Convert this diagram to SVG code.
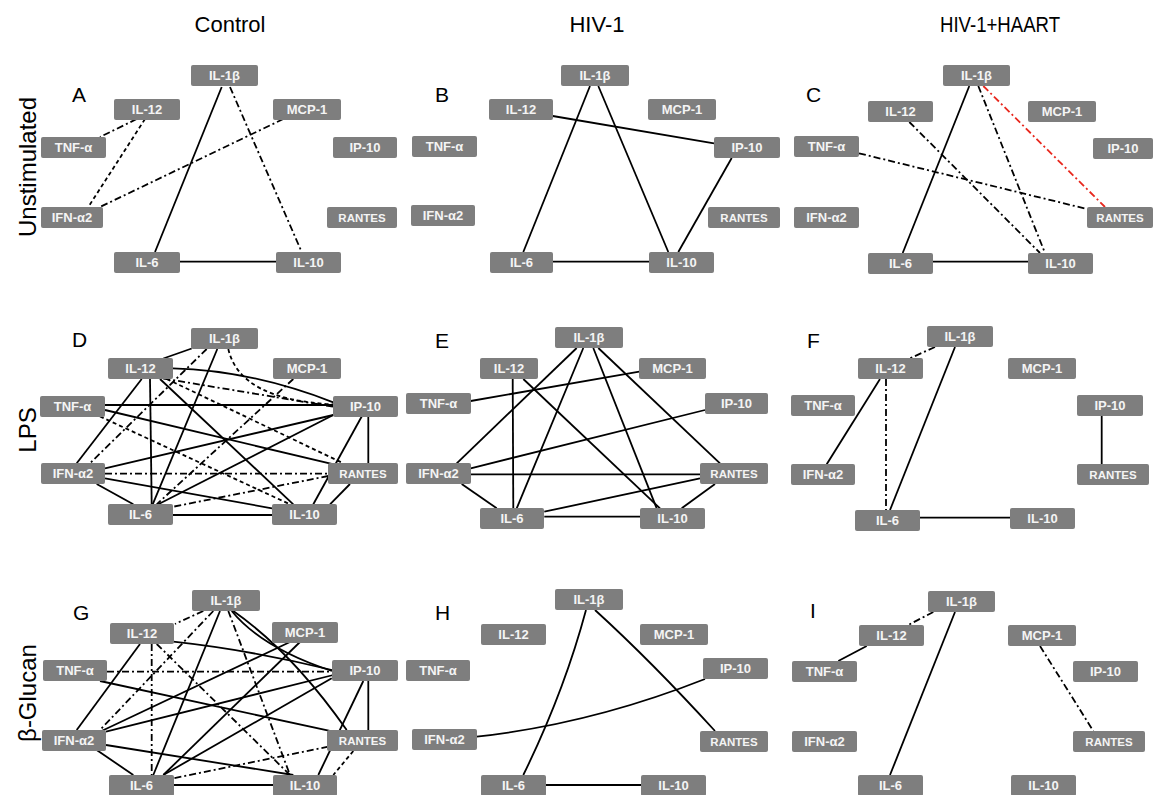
<svg xmlns="http://www.w3.org/2000/svg" width="1153" height="795" viewBox="0 0 1153 795">
<style>
.bg{fill:#fff}
.n rect{fill:#7e7e7e;rx:2px;ry:2px}
.n text{font-family:"Liberation Sans",Arial,sans-serif;font-weight:bold;font-size:13px;fill:#f4f4f4;text-anchor:middle}
.n text.rt{font-size:11.5px}
.e line,.e path{stroke:#000;stroke-width:1.8;fill:none}
.e .d{stroke-dasharray:4 3}
.e .dd{stroke-dasharray:7 3 2 3}
.e .r{stroke:#e8281e}
.hd{font-family:"Liberation Sans",Arial,sans-serif;font-size:22px;fill:#000;text-anchor:middle}
.rl{font-family:"Liberation Sans",Arial,sans-serif;font-size:24px;fill:#000;text-anchor:middle}
.pl{font-family:"Liberation Sans",Arial,sans-serif;font-size:21px;fill:#000}
</style>
<rect class="bg" x="0" y="0" width="1153" height="795"/>
<g id="headers">
<text class="hd" x="230" y="32">Control</text>
<text class="hd" x="597" y="32">HIV-1</text>
<text class="hd" x="1000" y="32" textLength="120" lengthAdjust="spacingAndGlyphs">HIV-1+HAART</text>
<text class="rl" transform="translate(36,167) rotate(-90)">Unstimulated</text>
<text class="rl" transform="translate(36,430) rotate(-90)">LPS</text>
<text class="rl" transform="translate(36,693) rotate(-90)">β-Glucan</text>
<text class="pl" x="72" y="102">A</text>
<text class="pl" x="435" y="102">B</text>
<text class="pl" x="806" y="102">C</text>
<text class="pl" x="72" y="347">D</text>
<text class="pl" x="435" y="348">E</text>
<text class="pl" x="807" y="348">F</text>
<text class="pl" x="73" y="620">G</text>
<text class="pl" x="435" y="620">H</text>
<text class="pl" x="810" y="618">I</text>
</g>
<g id="connectors" class="e">
<!-- A -->
<line x1="221.7" y1="87" x2="155" y2="252"/>
<line class="dd" x1="230" y1="87" x2="301.7" y2="252"/>
<line class="dd" x1="136.7" y1="119" x2="100" y2="137"/>
<line class="d" x1="145" y1="119" x2="88.3" y2="207"/>
<line class="dd" x1="283.3" y1="119" x2="100" y2="207"/>
<line x1="180" y1="261.7" x2="276" y2="261.7"/>
<!-- B -->
<line x1="590" y1="86" x2="523.3" y2="252"/>
<line x1="598.3" y1="86" x2="668.3" y2="252"/>
<line x1="552.7" y1="116" x2="714" y2="143.3"/>
<line x1="731.7" y1="158" x2="678.3" y2="252"/>
<line x1="553" y1="261.7" x2="649" y2="261.7"/>
<!-- C -->
<line x1="969.3" y1="86" x2="902.7" y2="253"/>
<line class="dd" x1="978.3" y1="86" x2="1045" y2="253"/>
<line class="dd r" x1="983.3" y1="86" x2="1105" y2="207"/>
<line class="dd" x1="909.3" y1="122" x2="1040" y2="253"/>
<line class="dd" x1="859" y1="153.3" x2="1087" y2="209"/>
<line x1="933" y1="261.7" x2="1028" y2="261.7"/>
<!-- D -->
<line x1="191.7" y1="348.5" x2="163.3" y2="358.5"/>
<line class="dd" x1="206.7" y1="349" x2="90" y2="463.3"/>
<line x1="217.3" y1="349" x2="152.7" y2="504.3"/>
<path class="d" d="M228.3,349 Q240,400 333,404.3"/>
<path d="M172.7,368.3 Q250,370 333.3,402.3"/>
<line class="dd" x1="163.3" y1="378.5" x2="333" y2="406.7"/>
<line class="d" x1="166.7" y1="379" x2="343.3" y2="463.3"/>
<line x1="160" y1="379" x2="293.3" y2="504.3"/>
<line x1="150" y1="379" x2="151.7" y2="504.3"/>
<line x1="141.7" y1="379" x2="76.7" y2="463.3"/>
<line x1="105" y1="405" x2="333" y2="405"/>
<line x1="105" y1="410" x2="343.3" y2="466.7"/>
<line class="d" x1="100" y1="416.5" x2="290" y2="504.3"/>
<line class="dd" x1="293.3" y1="379" x2="156.7" y2="504.3"/>
<line x1="105" y1="468.3" x2="333.3" y2="415"/>
<line class="dd" x1="105" y1="473.7" x2="328.3" y2="473.7"/>
<line x1="105" y1="478.3" x2="272" y2="508.3"/>
<line x1="96.7" y1="484" x2="133.3" y2="504.3"/>
<line x1="368.3" y1="416.5" x2="368.3" y2="463.3"/>
<line x1="361.7" y1="416.5" x2="313.3" y2="504.3"/>
<line x1="333.3" y1="415" x2="158.3" y2="504.3"/>
<line x1="350" y1="484" x2="330" y2="504.3"/>
<line class="dd" x1="328.3" y1="476" x2="166.7" y2="508"/>
<line x1="173" y1="515" x2="272" y2="515"/>
<!-- E -->
<line x1="576.7" y1="348" x2="456.7" y2="463.3"/>
<line x1="583.3" y1="348" x2="516.7" y2="508.3"/>
<line x1="593.3" y1="348" x2="656.7" y2="508.3"/>
<line x1="598.3" y1="348" x2="720" y2="463.3"/>
<line x1="512.7" y1="379" x2="513.3" y2="508.3"/>
<line x1="523.3" y1="379" x2="660" y2="508.3"/>
<line x1="470.7" y1="401" x2="639.3" y2="371.7"/>
<line x1="470.7" y1="468.3" x2="705" y2="410"/>
<line x1="470.7" y1="474.3" x2="700" y2="474.3"/>
<line x1="461.7" y1="484" x2="496.7" y2="508.3"/>
<line x1="700" y1="478.3" x2="544.3" y2="511.7"/>
<line x1="715" y1="484" x2="681.7" y2="508.3"/>
<line x1="544.3" y1="516.7" x2="640" y2="516.7"/>
<!-- F -->
<line class="dd" x1="935" y1="347" x2="910" y2="358.3"/>
<line x1="955" y1="347" x2="890" y2="510"/>
<line x1="880" y1="379" x2="826.7" y2="464.3"/>
<line class="dd" x1="886" y1="379" x2="886" y2="510"/>
<line x1="1101.7" y1="416" x2="1101.7" y2="464.3"/>
<line x1="920" y1="517.7" x2="1010" y2="517.7"/>
<!-- G -->
<line class="dd" x1="203.3" y1="611" x2="175" y2="624"/>
<line class="dd" x1="213.3" y1="611" x2="100" y2="730"/>
<line x1="220" y1="611" x2="153.3" y2="775"/>
<line class="dd" x1="228.3" y1="611" x2="290" y2="775"/>
<path d="M231.7,611 Q262,648 332,671"/>
<path d="M233.3,611 Q292,652 346.7,730"/>
<line x1="140" y1="644" x2="76.7" y2="730"/>
<line class="dd" x1="151.7" y1="644" x2="151.7" y2="775"/>
<line class="dd" x1="156.7" y1="644" x2="290" y2="775"/>
<path d="M173.3,641.7 Q250,650 332,670"/>
<line x1="290" y1="642" x2="100" y2="731.7"/>
<line x1="300" y1="642" x2="163.3" y2="775"/>
<line class="dd" x1="107" y1="671.7" x2="332" y2="671.7"/>
<line x1="100" y1="681" x2="333.3" y2="731.7"/>
<line x1="106" y1="731.7" x2="333.3" y2="675"/>
<line x1="106" y1="745" x2="293.3" y2="775"/>
<line x1="96.7" y1="750" x2="133.3" y2="775"/>
<line x1="368.3" y1="681" x2="368.3" y2="730"/>
<line x1="363.3" y1="681" x2="318.3" y2="775"/>
<line x1="331.7" y1="678.3" x2="163.3" y2="775"/>
<line class="dd" x1="328.3" y1="746.7" x2="173.3" y2="778.3"/>
<line class="d" x1="353.3" y1="751" x2="333.3" y2="775"/>
<line x1="174" y1="785" x2="273" y2="785"/>
<!-- H -->
<path d="M586,610 Q564,692 523.3,775"/>
<path d="M595,610 Q652,662 715,731"/>
<path d="M476.7,736.7 Q591,724 705,679"/>
<line x1="546" y1="785" x2="641" y2="785"/>
<!-- I -->
<line class="dd" x1="933.3" y1="612" x2="908.3" y2="625"/>
<line x1="955" y1="612" x2="890" y2="775"/>
<line x1="866.7" y1="646" x2="838.3" y2="661"/>
<line class="dd" x1="1040" y1="646" x2="1093.3" y2="731"/>
</g>
<g id="A-IL1b" class="n"><rect x="191" y="65" width="67" height="21"/><text x="224.5" y="80">IL-1β</text></g>
<g id="A-IL12" class="n"><rect x="114" y="99" width="66" height="21"/><text x="147" y="114">IL-12</text></g>
<g id="A-MCP1" class="n"><rect x="273" y="99" width="68" height="21"/><text x="307" y="114">MCP-1</text></g>
<g id="A-TNFa" class="n"><rect x="41" y="137" width="65" height="21"/><text x="73.5" y="152">TNF-α</text></g>
<g id="A-IP10" class="n"><rect x="333" y="137" width="64" height="21"/><text x="365" y="152">IP-10</text></g>
<g id="A-IFNa2" class="n"><rect x="41" y="207" width="62" height="21"/><text x="72" y="222">IFN-α2</text></g>
<g id="A-RANTES" class="n"><rect x="327" y="207" width="70" height="21"/><text class="rt" x="362" y="222">RANTES</text></g>
<g id="A-IL6" class="n"><rect x="114" y="252" width="66" height="21"/><text x="147" y="267">IL-6</text></g>
<g id="A-IL10" class="n"><rect x="276" y="252" width="65" height="21"/><text x="308.5" y="267">IL-10</text></g>
<g id="B-IL1b" class="n"><rect x="561" y="65" width="68" height="21"/><text x="595" y="80">IL-1β</text></g>
<g id="B-IL12" class="n"><rect x="489" y="99" width="64" height="21"/><text x="521" y="114">IL-12</text></g>
<g id="B-MCP1" class="n"><rect x="648" y="99" width="68" height="21"/><text x="682" y="114">MCP-1</text></g>
<g id="B-TNFa" class="n"><rect x="412" y="136" width="65" height="21"/><text x="444.5" y="151">TNF-α</text></g>
<g id="B-IP10" class="n"><rect x="714" y="137" width="66" height="21"/><text x="747" y="152">IP-10</text></g>
<g id="B-IFNa2" class="n"><rect x="411" y="205" width="64" height="21"/><text x="443" y="220">IFN-α2</text></g>
<g id="B-RANTES" class="n"><rect x="708" y="207" width="72" height="21"/><text class="rt" x="744" y="222">RANTES</text></g>
<g id="B-IL6" class="n"><rect x="490" y="252" width="63" height="21"/><text x="521.5" y="267">IL-6</text></g>
<g id="B-IL10" class="n"><rect x="649" y="252" width="65" height="21"/><text x="681.5" y="267">IL-10</text></g>
<g id="C-IL1b" class="n"><rect x="943" y="65" width="67" height="21"/><text x="976.5" y="80">IL-1β</text></g>
<g id="C-IL12" class="n"><rect x="868" y="101" width="65" height="21"/><text x="900.5" y="116">IL-12</text></g>
<g id="C-MCP1" class="n"><rect x="1028" y="101" width="68" height="21"/><text x="1062" y="116">MCP-1</text></g>
<g id="C-TNFa" class="n"><rect x="794" y="136" width="65" height="21"/><text x="826.5" y="151">TNF-α</text></g>
<g id="C-IP10" class="n"><rect x="1093" y="138" width="60" height="21"/><text x="1123" y="153">IP-10</text></g>
<g id="C-IFNa2" class="n"><rect x="794" y="207" width="65" height="21"/><text x="826.5" y="222">IFN-α2</text></g>
<g id="C-RANTES" class="n"><rect x="1087" y="207" width="66" height="21"/><text class="rt" x="1120" y="222">RANTES</text></g>
<g id="C-IL6" class="n"><rect x="868" y="253" width="65" height="21"/><text x="900.5" y="268">IL-6</text></g>
<g id="C-IL10" class="n"><rect x="1028" y="253" width="65" height="21"/><text x="1060.5" y="268">IL-10</text></g>
<g id="D-IL1b" class="n"><rect x="191" y="328" width="67" height="21"/><text x="224.5" y="343">IL-1β</text></g>
<g id="D-IL12" class="n"><rect x="108" y="358" width="65" height="21"/><text x="140.5" y="373">IL-12</text></g>
<g id="D-MCP1" class="n"><rect x="273" y="358" width="68" height="21"/><text x="307" y="373">MCP-1</text></g>
<g id="D-TNFa" class="n"><rect x="40" y="396" width="65" height="21"/><text x="72.5" y="411">TNF-α</text></g>
<g id="D-IP10" class="n"><rect x="333" y="396" width="65" height="21"/><text x="365.5" y="411">IP-10</text></g>
<g id="D-IFNa2" class="n"><rect x="41" y="463" width="64" height="21"/><text x="73" y="478">IFN-α2</text></g>
<g id="D-RANTES" class="n"><rect x="328" y="463" width="70" height="21"/><text class="rt" x="363" y="478">RANTES</text></g>
<g id="D-IL6" class="n"><rect x="108" y="504" width="65" height="21"/><text x="140.5" y="519">IL-6</text></g>
<g id="D-IL10" class="n"><rect x="272" y="504" width="65" height="21"/><text x="304.5" y="519">IL-10</text></g>
<g id="E-IL1b" class="n"><rect x="555" y="327" width="68" height="21"/><text x="589" y="342">IL-1β</text></g>
<g id="E-IL12" class="n"><rect x="480" y="358" width="58" height="21"/><text x="509" y="373">IL-12</text></g>
<g id="E-MCP1" class="n"><rect x="639" y="358" width="67" height="21"/><text x="672.5" y="373">MCP-1</text></g>
<g id="E-TNFa" class="n"><rect x="406" y="393" width="65" height="21"/><text x="438.5" y="408">TNF-α</text></g>
<g id="E-IP10" class="n"><rect x="705" y="393" width="63" height="21"/><text x="736.5" y="408">IP-10</text></g>
<g id="E-IFNa2" class="n"><rect x="406" y="463" width="65" height="21"/><text x="438.5" y="478">IFN-α2</text></g>
<g id="E-RANTES" class="n"><rect x="700" y="463" width="68" height="21"/><text class="rt" x="734" y="478">RANTES</text></g>
<g id="E-IL6" class="n"><rect x="480" y="508" width="64" height="21"/><text x="512" y="523">IL-6</text></g>
<g id="E-IL10" class="n"><rect x="640" y="508" width="65" height="21"/><text x="672.5" y="523">IL-10</text></g>
<g id="F-IL1b" class="n"><rect x="927" y="326" width="66" height="21"/><text x="960" y="341">IL-1β</text></g>
<g id="F-IL12" class="n"><rect x="858" y="358" width="65" height="21"/><text x="890.5" y="373">IL-12</text></g>
<g id="F-MCP1" class="n"><rect x="1008" y="358" width="68" height="21"/><text x="1042" y="373">MCP-1</text></g>
<g id="F-TNFa" class="n"><rect x="791" y="395" width="64" height="21"/><text x="823" y="410">TNF-α</text></g>
<g id="F-IP10" class="n"><rect x="1077" y="395" width="66" height="21"/><text x="1110" y="410">IP-10</text></g>
<g id="F-IFNa2" class="n"><rect x="791" y="464" width="64" height="21"/><text x="823" y="479">IFN-α2</text></g>
<g id="F-RANTES" class="n"><rect x="1077" y="464" width="72" height="21"/><text class="rt" x="1113" y="479">RANTES</text></g>
<g id="F-IL6" class="n"><rect x="855" y="510" width="65" height="21"/><text x="887.5" y="525">IL-6</text></g>
<g id="F-IL10" class="n"><rect x="1010" y="508" width="65" height="21"/><text x="1042.5" y="523">IL-10</text></g>
<g id="G-IL1b" class="n"><rect x="192" y="590" width="68" height="21"/><text x="226" y="605">IL-1β</text></g>
<g id="G-IL12" class="n"><rect x="110" y="623" width="64" height="21"/><text x="142" y="638">IL-12</text></g>
<g id="G-MCP1" class="n"><rect x="272" y="622" width="66" height="21"/><text x="305" y="637">MCP-1</text></g>
<g id="G-TNFa" class="n"><rect x="43" y="660" width="64" height="21"/><text x="75" y="675">TNF-α</text></g>
<g id="G-IP10" class="n"><rect x="332" y="660" width="66" height="21"/><text x="365" y="675">IP-10</text></g>
<g id="G-IFNa2" class="n"><rect x="42" y="730" width="64" height="21"/><text x="74" y="745">IFN-α2</text></g>
<g id="G-RANTES" class="n"><rect x="327" y="730" width="71" height="21"/><text class="rt" x="362.5" y="745">RANTES</text></g>
<g id="G-IL6" class="n"><rect x="109" y="775" width="65" height="21"/><text x="141.5" y="790">IL-6</text></g>
<g id="G-IL10" class="n"><rect x="273" y="775" width="64" height="21"/><text x="305" y="790">IL-10</text></g>
<g id="H-IL1b" class="n"><rect x="555" y="589" width="68" height="21"/><text x="589" y="604">IL-1β</text></g>
<g id="H-IL12" class="n"><rect x="481" y="624" width="65" height="21"/><text x="513.5" y="639">IL-12</text></g>
<g id="H-MCP1" class="n"><rect x="640" y="624" width="68" height="21"/><text x="674" y="639">MCP-1</text></g>
<g id="H-TNFa" class="n"><rect x="406" y="660" width="64" height="21"/><text x="438" y="675">TNF-α</text></g>
<g id="H-IP10" class="n"><rect x="703" y="658" width="65" height="21"/><text x="735.5" y="673">IP-10</text></g>
<g id="H-IFNa2" class="n"><rect x="412" y="729" width="65" height="21"/><text x="444.5" y="744">IFN-α2</text></g>
<g id="H-RANTES" class="n"><rect x="700" y="731" width="68" height="21"/><text class="rt" x="734" y="746">RANTES</text></g>
<g id="H-IL6" class="n"><rect x="481" y="775" width="65" height="21"/><text x="513.5" y="790">IL-6</text></g>
<g id="H-IL10" class="n"><rect x="641" y="775" width="65" height="21"/><text x="673.5" y="790">IL-10</text></g>
<g id="I-IL1b" class="n"><rect x="928" y="591" width="67" height="21"/><text x="961.5" y="606">IL-1β</text></g>
<g id="I-IL12" class="n"><rect x="859" y="625" width="65" height="21"/><text x="891.5" y="640">IL-12</text></g>
<g id="I-MCP1" class="n"><rect x="1008" y="625" width="68" height="21"/><text x="1042" y="640">MCP-1</text></g>
<g id="I-TNFa" class="n"><rect x="792" y="661" width="65" height="21"/><text x="824.5" y="676">TNF-α</text></g>
<g id="I-IP10" class="n"><rect x="1073" y="661" width="65" height="21"/><text x="1105.5" y="676">IP-10</text></g>
<g id="I-IFNa2" class="n"><rect x="792" y="731" width="65" height="21"/><text x="824.5" y="746">IFN-α2</text></g>
<g id="I-RANTES" class="n"><rect x="1073" y="731" width="72" height="21"/><text class="rt" x="1109" y="746">RANTES</text></g>
<g id="I-IL6" class="n"><rect x="858" y="775" width="65" height="21"/><text x="890.5" y="790">IL-6</text></g>
<g id="I-IL10" class="n"><rect x="1011" y="775" width="65" height="21"/><text x="1043.5" y="790">IL-10</text></g>
</svg>
